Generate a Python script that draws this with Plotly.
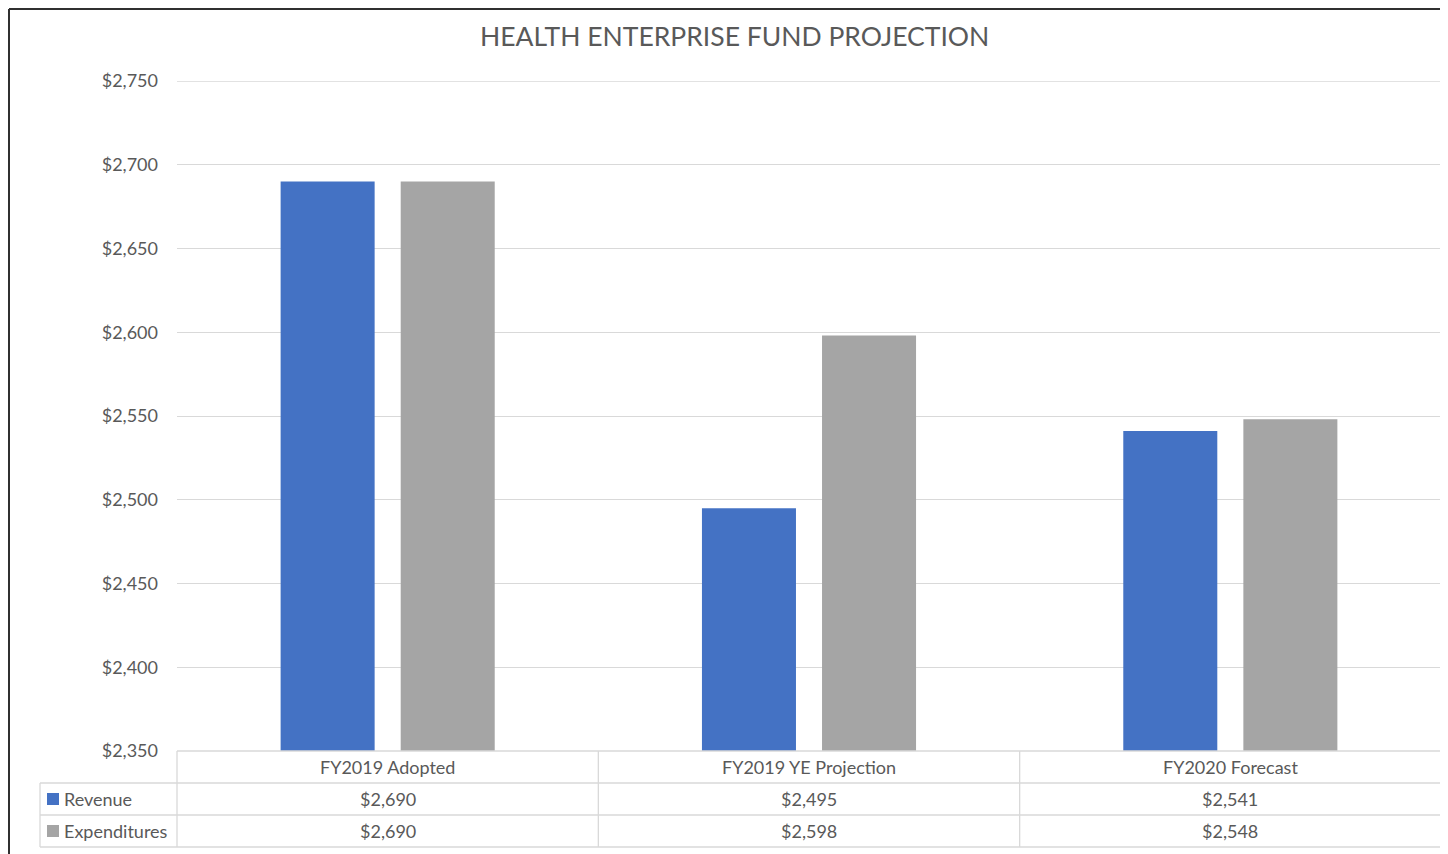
import plotly.graph_objects as go

categories = ["FY2019 Adopted", "FY2019 YE Projection", "FY2020 Forecast"]
series_names = ["Revenue", "Expenditures"]
revenue = [2690, 2495, 2541]
expenditures = [2690, 2598, 2548]
series_values = [revenue, expenditures]
colors = ["#4472C4", "#A5A5A5"]

OFF = 8  # page body margin
W, H = 1448 - OFF, 854 - OFF
L, R, T, B = 177, 1441, 81, 751  # screen coordinates of plot area
PW, PH = R - L, B - T

def px(x):
    return (x - L) / PW

def py(y):
    return (B - y) / PH

FONT = "Lato, 'Open Sans', sans-serif"
TXT = "#595959"
GRID = "#D9D9D9"

fig = go.Figure()
for name, vals, c in zip(series_names, series_values, colors):
    fig.add_trace(go.Bar(x=categories, y=vals, name=name, marker_color=c,
                         marker_line_width=0, showlegend=False))

shapes = []
annotations = []

def line(x0, y0, x1, y1, color=GRID, width=1.3):
    shapes.append(dict(type="line", xref="paper", yref="paper",
                       x0=px(x0), y0=py(y0), x1=px(x1), y1=py(y1),
                       line=dict(color=color, width=width)))

# top gridline at range max
shapes.append(dict(type="line", xref="paper", yref="y", x0=0, x1=1,
                   y0=2750, y1=2750, line=dict(color=GRID, width=1.3)))

# table geometry
left_col = 40
rows_y = [751, 783, 815, 847]
n = len(categories)
colw = PW / n
col_x = [L + i * colw for i in range(n + 1)]

line(L, rows_y[0], R, rows_y[0])
for yy in rows_y[1:]:
    line(left_col, yy, R, yy)
for xx in col_x:
    line(xx, rows_y[0], xx, rows_y[3])
line(left_col, rows_y[1], left_col, rows_y[3])

FS = 18
for i, cat in enumerate(categories):
    annotations.append(dict(xref="paper", yref="paper", x=px(L + (i + 0.5) * colw),
                            y=py((rows_y[0] + rows_y[1]) / 2), text=cat, showarrow=False,
                            font=dict(size=FS, color=TXT, family=FONT),
                            xanchor="center", yanchor="middle"))
for r, (name, vals, c) in enumerate(zip(series_names, series_values, colors)):
    ymid = (rows_y[r + 1] + rows_y[r + 2]) / 2
    shapes.append(dict(type="rect", xref="paper", yref="paper",
                       x0=px(47), x1=px(59), y0=py(ymid - 6), y1=py(ymid + 6),
                       fillcolor=c, line=dict(width=0)))
    annotations.append(dict(xref="paper", yref="paper", x=px(62), y=py(ymid),
                            text=name, showarrow=False,
                            font=dict(size=FS, color=TXT, family=FONT),
                            xanchor="left", yanchor="middle"))
    for i, v in enumerate(vals):
        annotations.append(dict(xref="paper", yref="paper", x=px(L + (i + 0.5) * colw),
                                y=py(ymid), text=f"${v:,}", showarrow=False,
                                font=dict(size=FS, color=TXT, family=FONT),
                                xanchor="center", yanchor="middle"))

# outer frame (left and top)
line(9, 9, 9, 860, color="#303030", width=2)
line(9, 9, 1460, 9, color="#303030", width=2)

annotations.append(dict(xref="paper", yref="paper", x=px(734), y=py(36),
                        text="HEALTH ENTERPRISE FUND PROJECTION", showarrow=False,
                        font=dict(size=26.5, color=TXT, family=FONT),
                        xanchor="center", yanchor="middle"))

fig.update_layout(
    width=W, height=H,
    margin=dict(l=L - OFF, r=1448 - R, t=T - OFF, b=854 - B),
    paper_bgcolor="white", plot_bgcolor="white",
    barmode="group", bargap=0.43, bargroupgap=0.217,
    shapes=shapes, annotations=annotations,
    font=dict(family=FONT, color=TXT),
    xaxis=dict(showticklabels=False, showgrid=False, zeroline=False,
               showline=False, ticks=""),
    yaxis=dict(range=[2350, 2750], dtick=50, tickprefix="$", tickformat=",",
               showgrid=True, gridcolor=GRID, gridwidth=1.3, zeroline=False,
               showline=False, ticks="", ticklabelstandoff=18,
               tickfont=dict(size=FS, color=TXT, family=FONT)),
)

fig.write_html("out.html")
